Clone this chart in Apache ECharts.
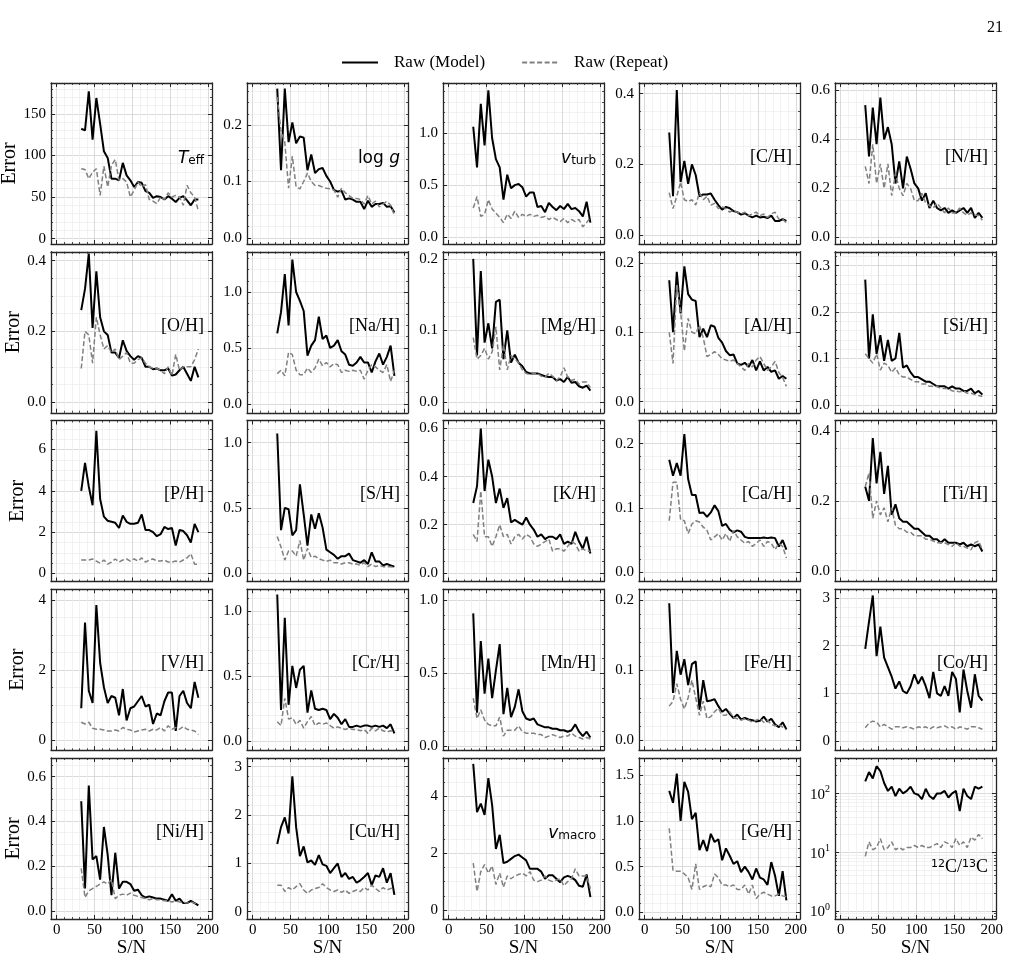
<!DOCTYPE html>
<html>
<head>
<meta charset="utf-8">
<script src="https://cdn.jsdelivr.net/npm/echarts@6/dist/echarts.min.js"></script>
<style>
html,body{margin:0;padding:0;background:#fff;}
#chart{width:1020px;height:977px;}
</style>
</head>
<body>
<div id="chart"></div>
<script>
// S/N bin centres shared by every panel
var snr = [32.5,37.5,42.5,47.5,52.5,57.5,62.5,67.5,72.5,77.5,82.5,87.5,92.5,97.5,102.5,107.5,
           112.5,117.5,122.5,127.5,132.5,137.5,142.5,147.5,152.5,157.5,162.5,167.5,172.5,177.5,182.5,187.5];

// row 1
var teffModel = [132,130,177,119,169,138,105,97,72,72,70,91,76,70,62,68,67,57,55,49,51,50,47,51,48,44,49,51,46,40,47,47];
var teffRepeat = [84,83,72,80,84,52,87,62,88,95,70,72,68,50,58,68,62,65,47,45,42,50,47,55,50,52,50,40,64,55,50,33];
var loggModel = [0.265,0.12,0.265,0.17,0.205,0.168,0.18,0.178,0.12,0.148,0.115,0.122,0.124,0.11,0.1,0.085,0.082,0.084,0.068,0.07,0.068,0.064,0.064,0.051,0.066,0.055,0.06,0.06,0.062,0.055,0.056,0.045];
var loggRepeat = [0.25,0.19,0.17,0.088,0.145,0.09,0.087,0.1,0.115,0.1,0.093,0.093,0.09,0.088,0.087,0.085,0.072,0.088,0.08,0.075,0.07,0.07,0.068,0.06,0.075,0.06,0.065,0.055,0.06,0.065,0.058,0.04];
var vturbModel = [1.06,0.67,1.28,0.88,1.41,0.95,0.75,0.67,0.36,0.6,0.47,0.5,0.51,0.48,0.39,0.43,0.43,0.29,0.3,0.24,0.33,0.29,0.26,0.3,0.27,0.32,0.27,0.28,0.25,0.2,0.34,0.14];
var vturbRepeat = [0.28,0.39,0.2,0.22,0.36,0.27,0.23,0.19,0.14,0.22,0.18,0.25,0.19,0.22,0.2,0.22,0.2,0.21,0.19,0.2,0.17,0.19,0.17,0.15,0.18,0.14,0.17,0.15,0.17,0.1,0.14,0.19];
var chModel = [0.29,0.11,0.41,0.15,0.21,0.145,0.2,0.17,0.11,0.115,0.115,0.118,0.1,0.085,0.072,0.08,0.076,0.068,0.065,0.058,0.062,0.055,0.05,0.055,0.05,0.052,0.048,0.055,0.04,0.04,0.045,0.04];
var chRepeat = [0.12,0.075,0.11,0.15,0.1,0.095,0.1,0.085,0.12,0.1,0.11,0.085,0.09,0.075,0.08,0.075,0.065,0.07,0.065,0.06,0.065,0.055,0.06,0.065,0.055,0.06,0.05,0.06,0.065,0.045,0.045,0.035];
var nhModel = [0.54,0.33,0.53,0.38,0.57,0.4,0.45,0.38,0.22,0.31,0.2,0.33,0.28,0.22,0.2,0.15,0.18,0.12,0.15,0.12,0.11,0.12,0.1,0.11,0.1,0.11,0.12,0.1,0.12,0.08,0.1,0.08];
var nhRepeat = [0.29,0.22,0.38,0.22,0.3,0.2,0.3,0.17,0.26,0.2,0.17,0.22,0.2,0.15,0.15,0.18,0.14,0.13,0.12,0.14,0.12,0.1,0.12,0.1,0.1,0.12,0.1,0.09,0.1,0.09,0.09,0.07];

// row 2
var ohModel = [0.26,0.32,0.42,0.21,0.37,0.24,0.2,0.19,0.14,0.14,0.125,0.175,0.145,0.13,0.12,0.13,0.125,0.1,0.1,0.093,0.095,0.09,0.09,0.095,0.075,0.078,0.09,0.1,0.08,0.06,0.1,0.07];
var ohRepeat = [0.095,0.2,0.19,0.11,0.24,0.19,0.15,0.16,0.14,0.15,0.12,0.13,0.14,0.11,0.11,0.12,0.125,0.11,0.1,0.095,0.095,0.09,0.08,0.1,0.075,0.135,0.09,0.1,0.1,0.1,0.12,0.15];
var naModel = [0.63,0.82,1.16,0.7,1.29,1.0,0.92,0.83,0.43,0.52,0.57,0.78,0.58,0.61,0.5,0.52,0.57,0.47,0.44,0.35,0.34,0.37,0.42,0.37,0.37,0.28,0.38,0.45,0.35,0.42,0.52,0.25];
var naRepeat = [0.27,0.3,0.25,0.46,0.44,0.3,0.26,0.26,0.32,0.28,0.32,0.4,0.34,0.37,0.33,0.36,0.35,0.28,0.3,0.29,0.3,0.29,0.3,0.22,0.3,0.35,0.33,0.3,0.28,0.35,0.2,0.3];
var mgModel = [0.2,0.065,0.183,0.083,0.11,0.075,0.14,0.143,0.06,0.1,0.055,0.066,0.055,0.05,0.042,0.04,0.04,0.04,0.038,0.036,0.035,0.035,0.03,0.032,0.028,0.035,0.027,0.028,0.022,0.02,0.023,0.016];
var mgRepeat = [0.09,0.06,0.065,0.075,0.06,0.07,0.105,0.045,0.08,0.045,0.065,0.06,0.055,0.045,0.04,0.038,0.04,0.04,0.036,0.035,0.04,0.036,0.03,0.035,0.048,0.035,0.03,0.032,0.025,0.028,0.028,0.02];
var alModel = [0.175,0.1,0.187,0.127,0.195,0.155,0.147,0.145,0.093,0.105,0.093,0.11,0.108,0.092,0.085,0.073,0.067,0.068,0.055,0.053,0.056,0.05,0.06,0.045,0.058,0.045,0.05,0.043,0.045,0.033,0.037,0.033];
var alRepeat = [0.1,0.055,0.17,0.13,0.073,0.12,0.1,0.098,0.11,0.092,0.065,0.068,0.072,0.068,0.062,0.06,0.058,0.06,0.055,0.05,0.045,0.055,0.05,0.06,0.065,0.055,0.045,0.05,0.058,0.042,0.035,0.022];
var siModel = [0.27,0.1,0.195,0.11,0.15,0.095,0.14,0.095,0.1,0.155,0.08,0.085,0.07,0.06,0.06,0.055,0.05,0.05,0.045,0.04,0.04,0.04,0.035,0.04,0.035,0.035,0.03,0.03,0.035,0.025,0.03,0.022];
var siRepeat = [0.11,0.1,0.09,0.11,0.075,0.09,0.085,0.07,0.08,0.065,0.06,0.06,0.055,0.05,0.05,0.045,0.045,0.04,0.04,0.04,0.035,0.035,0.035,0.03,0.03,0.028,0.03,0.025,0.025,0.022,0.02,0.018];

// row 3
var pModel = [4.0,5.35,4.2,3.3,6.9,3.6,2.75,2.55,2.5,2.45,2.2,2.8,2.5,2.4,2.4,2.45,2.85,2.1,2.1,2.0,1.8,1.9,2.25,2.15,2.2,1.35,2.1,2.05,1.85,1.5,2.4,2.0];
var pRepeat = [0.65,0.65,0.65,0.7,0.6,0.5,0.65,0.45,0.55,0.7,0.55,0.65,0.7,0.6,0.7,0.6,0.75,0.55,0.65,0.7,0.6,0.6,0.65,0.55,0.55,0.6,0.55,0.65,0.75,0.95,0.45,0.45];
var sModel = [1.07,0.33,0.5,0.49,0.29,0.33,0.68,0.45,0.21,0.45,0.34,0.46,0.35,0.18,0.16,0.14,0.11,0.13,0.13,0.15,0.1,0.09,0.08,0.1,0.07,0.16,0.09,0.09,0.06,0.07,0.06,0.05];
var sRepeat = [0.28,0.2,0.1,0.17,0.17,0.13,0.25,0.1,0.19,0.12,0.13,0.11,0.1,0.09,0.1,0.08,0.08,0.07,0.08,0.08,0.07,0.07,0.06,0.08,0.05,0.07,0.05,0.06,0.05,0.05,0.05,0.04];
var kModel = [0.29,0.36,0.6,0.34,0.47,0.4,0.29,0.35,0.27,0.31,0.21,0.22,0.21,0.2,0.23,0.2,0.18,0.15,0.16,0.14,0.15,0.15,0.14,0.16,0.12,0.13,0.12,0.17,0.13,0.1,0.15,0.08];
var kRepeat = [0.16,0.13,0.34,0.15,0.15,0.11,0.15,0.2,0.15,0.16,0.12,0.15,0.16,0.14,0.16,0.15,0.12,0.11,0.12,0.13,0.14,0.09,0.1,0.1,0.09,0.11,0.13,0.12,0.09,0.1,0.09,0.09];
var caModel = [0.175,0.15,0.17,0.15,0.215,0.145,0.12,0.12,0.092,0.093,0.086,0.093,0.104,0.095,0.072,0.075,0.066,0.062,0.065,0.063,0.055,0.053,0.053,0.053,0.053,0.054,0.053,0.054,0.053,0.04,0.05,0.035];
var caRepeat = [0.08,0.14,0.14,0.082,0.08,0.06,0.075,0.08,0.078,0.07,0.065,0.05,0.055,0.06,0.05,0.06,0.048,0.065,0.055,0.05,0.045,0.048,0.04,0.045,0.05,0.04,0.048,0.045,0.035,0.045,0.04,0.022];
var tiModel = [0.24,0.2,0.38,0.25,0.34,0.22,0.3,0.16,0.19,0.15,0.14,0.14,0.13,0.12,0.12,0.11,0.1,0.1,0.09,0.09,0.08,0.09,0.08,0.08,0.08,0.075,0.08,0.07,0.075,0.07,0.075,0.055];
var tiRepeat = [0.24,0.28,0.15,0.2,0.16,0.18,0.14,0.18,0.13,0.12,0.12,0.11,0.11,0.1,0.1,0.1,0.09,0.09,0.085,0.08,0.08,0.08,0.075,0.07,0.08,0.07,0.07,0.065,0.06,0.08,0.085,0.06];

// row 4
var vModel = [0.9,3.35,1.4,1.05,3.85,2.2,1.5,1.05,1.25,1.2,0.7,1.45,0.55,0.9,0.95,1.1,1.25,0.95,1.0,0.45,0.75,0.7,1.1,1.35,1.35,0.25,1.25,1.4,1.05,0.9,1.65,1.2];
var vRepeat = [0.5,0.45,0.5,0.33,0.3,0.3,0.28,0.25,0.25,0.28,0.25,0.35,0.3,0.28,0.22,0.25,0.28,0.3,0.25,0.3,0.28,0.35,0.25,0.4,0.3,0.35,0.3,0.38,0.3,0.28,0.25,0.15];
var crModel = [1.13,0.24,0.95,0.28,0.58,0.41,0.55,0.58,0.22,0.39,0.25,0.24,0.25,0.24,0.17,0.21,0.18,0.13,0.17,0.11,0.11,0.12,0.11,0.12,0.12,0.11,0.12,0.11,0.12,0.1,0.13,0.06];
var crRepeat = [0.15,0.12,0.33,0.17,0.18,0.13,0.16,0.1,0.15,0.19,0.12,0.14,0.13,0.14,0.12,0.1,0.11,0.1,0.09,0.1,0.09,0.09,0.08,0.09,0.06,0.1,0.08,0.1,0.08,0.07,0.08,0.07];
var mnModel = [0.91,0.23,0.72,0.36,0.6,0.33,0.52,0.7,0.22,0.4,0.2,0.27,0.39,0.24,0.19,0.18,0.19,0.15,0.14,0.13,0.13,0.12,0.12,0.11,0.11,0.1,0.11,0.15,0.1,0.07,0.1,0.06];
var mnRepeat = [0.33,0.19,0.25,0.18,0.15,0.14,0.14,0.2,0.07,0.11,0.11,0.11,0.14,0.1,0.09,0.09,0.09,0.08,0.08,0.06,0.07,0.08,0.07,0.06,0.07,0.07,0.09,0.07,0.06,0.05,0.06,0.05];
var feModel = [0.195,0.067,0.127,0.093,0.115,0.078,0.108,0.112,0.043,0.085,0.055,0.056,0.058,0.048,0.04,0.044,0.037,0.031,0.036,0.029,0.031,0.029,0.028,0.026,0.027,0.033,0.026,0.03,0.022,0.018,0.025,0.015];
var feRepeat = [0.048,0.055,0.08,0.058,0.044,0.06,0.085,0.06,0.035,0.055,0.03,0.033,0.04,0.045,0.035,0.035,0.04,0.032,0.03,0.028,0.03,0.028,0.025,0.028,0.03,0.025,0.028,0.022,0.02,0.022,0.018,0.014];
var coModel = [1.93,2.5,3.05,1.78,2.4,1.75,1.55,1.35,1.1,1.25,1.05,1.0,1.15,1.4,1.2,1.35,1.15,0.9,1.45,1.0,0.95,1.15,0.95,1.45,1.3,0.6,1.5,1.05,0.7,1.4,0.95,0.85];
var coRepeat = [0.28,0.38,0.42,0.4,0.3,0.35,0.3,0.25,0.3,0.3,0.28,0.3,0.28,0.25,0.3,0.28,0.3,0.25,0.3,0.28,0.3,0.32,0.28,0.3,0.25,0.3,0.28,0.25,0.3,0.3,0.28,0.25];

// row 5
var niModel = [0.49,0.1,0.56,0.23,0.245,0.14,0.375,0.25,0.07,0.26,0.1,0.13,0.13,0.12,0.09,0.095,0.07,0.06,0.065,0.06,0.055,0.055,0.05,0.045,0.075,0.045,0.055,0.035,0.035,0.045,0.035,0.025];
var niRepeat = [0.19,0.06,0.09,0.1,0.11,0.12,0.13,0.12,0.14,0.055,0.07,0.075,0.07,0.08,0.07,0.065,0.06,0.055,0.05,0.055,0.05,0.05,0.045,0.045,0.04,0.045,0.04,0.04,0.035,0.04,0.035,0.03];
var cuModel = [1.4,1.75,1.95,1.62,2.8,1.75,1.15,1.35,1.02,1.06,0.97,1.17,0.98,0.95,0.8,0.9,1.0,0.72,0.8,0.68,0.72,0.6,0.65,0.72,0.8,0.55,0.75,0.72,0.9,0.6,0.8,0.35];
var cuRepeat = [0.55,0.55,0.42,0.5,0.45,0.52,0.58,0.45,0.38,0.45,0.48,0.5,0.58,0.5,0.45,0.42,0.45,0.4,0.45,0.38,0.42,0.45,0.42,0.5,0.45,0.55,0.48,0.42,0.5,0.45,0.48,0.5];
var vmacroModel = [5.15,3.45,3.75,3.35,4.65,3.7,2.15,2.65,1.65,1.7,1.8,1.9,1.95,1.85,1.75,1.45,1.45,1.45,1.35,1.1,1.22,1.22,1.1,0.98,1.15,1.2,1.15,1.05,0.85,0.82,1.25,0.45];
var vmacroRepeat = [1.65,0.65,1.35,1.6,1.3,1.55,0.9,1.3,0.8,1.2,1.1,1.2,1.25,1.3,1.2,1.35,1.05,1.0,1.05,1.2,1.05,1.0,1.05,1.1,0.85,1.0,1.1,1.45,1.2,1.2,1.2,0.75];
var geModel = [1.33,1.2,1.52,1.0,1.43,1.32,1.02,1.09,0.68,0.79,0.67,0.86,0.77,0.8,0.57,0.7,0.62,0.53,0.56,0.44,0.5,0.44,0.36,0.48,0.38,0.36,0.3,0.55,0.4,0.18,0.45,0.13];
var geRepeat = [0.92,0.46,0.45,0.45,0.42,0.38,0.25,0.53,0.25,0.28,0.3,0.28,0.42,0.38,0.3,0.3,0.28,0.3,0.25,0.25,0.3,0.2,0.3,0.15,0.2,0.22,0.2,0.18,0.18,0.2,0.18,0.17];
var cratioModel = [160,230,180,290,240,150,110,130,90,120,100,110,130,100,95,80,120,90,80,100,100,110,85,100,110,50,120,90,80,130,120,130];
var cratioRepeat = [8.5,15,11,12,17,11,12,15,11,12,11,12,12,13,12,13,12,12,13,14,12,15,14,12,17,13,15,12,18,16,20,17];

// panel labels (rich text)
var labels = [
  '{mi|T}{sub|eff}', '{m|log }{mi|g}', '{mi|v}{sub|turb}', '[C/H]', '[N/H]',
  '[O/H]', '[Na/H]', '[Mg/H]', '[Al/H]', '[Si/H]',
  '[P/H]', '[S/H]', '[K/H]', '[Ca/H]', '[Ti/H]',
  '[V/H]', '[Cr/H]', '[Mn/H]', '[Fe/H]', '[Co/H]',
  '[Ni/H]', '[Cu/H]', '{mi|v}{sub|macro}', '[Ge/H]', '{sup|12}C/{sup|13}C'
];

// axis ranges: [min, max, major step, minor splits]
var panels = [
  {model: teffModel, repeat: teffRepeat, y: [-6.5, 187, 50, 5]},
  {model: loggModel, repeat: loggRepeat, y: [-0.011, 0.275, 0.1, 5]},
  {model: vturbModel, repeat: vturbRepeat, y: [-0.065, 1.48, 0.5, 5]},
  {model: chModel, repeat: chRepeat, y: [-0.025, 0.43, 0.2, 4]},
  {model: nhModel, repeat: nhRepeat, y: [-0.027, 0.63, 0.2, 4]},
  {model: ohModel, repeat: ohRepeat, y: [-0.03, 0.425, 0.2, 4]},
  {model: naModel, repeat: naRepeat, y: [-0.08, 1.36, 0.5, 5]},
  {model: mgModel, repeat: mgRepeat, y: [-0.015, 0.21, 0.1, 5]},
  {model: alModel, repeat: alRepeat, y: [-0.016, 0.216, 0.1, 5]},
  {model: siModel, repeat: siRepeat, y: [-0.017, 0.33, 0.1, 5]},
  {model: pModel, repeat: pRepeat, y: [-0.39, 7.4, 2, 4]},
  {model: sModel, repeat: sRepeat, y: [-0.064, 1.17, 0.5, 5]},
  {model: kModel, repeat: kRepeat, y: [-0.036, 0.633, 0.2, 4]},
  {model: caModel, repeat: caRepeat, y: [-0.0145, 0.236, 0.1, 5]},
  {model: tiModel, repeat: tiRepeat, y: [-0.031, 0.43, 0.2, 4]},
  {model: vModel, repeat: vRepeat, y: [-0.3, 4.3, 2, 4]},
  {model: crModel, repeat: crRepeat, y: [-0.07, 1.17, 0.5, 5]},
  {model: mnModel, repeat: mnRepeat, y: [-0.027, 1.075, 0.5, 5]},
  {model: feModel, repeat: feRepeat, y: [-0.015, 0.215, 0.1, 5]},
  {model: coModel, repeat: coRepeat, y: [-0.19, 3.18, 1, 5]},
  {model: niModel, repeat: niRepeat, y: [-0.036, 0.683, 0.2, 4]},
  {model: cuModel, repeat: cuRepeat, y: [-0.15, 3.18, 1, 5]},
  {model: vmacroModel, repeat: vmacroRepeat, y: [-0.32, 5.36, 2, 4]},
  {model: geModel, repeat: geRepeat, y: [-0.073, 1.69, 0.5, 5]},
  {model: cratioModel, repeat: cratioRepeat, y: [0.73, 400], log: true}
];

var serif = 'Liberation Serif';
var sans = 'DejaVu Sans';
var frame = '#262626';
var majorGrid = '#d2d2d2';
var minorGrid = '#ececec';

var labelRich = {
  mi: {fontFamily: sans, fontStyle: 'italic', fontSize: 17, lineHeight: 20, verticalAlign: 'bottom'},
  m: {fontFamily: sans, fontSize: 17, lineHeight: 20, verticalAlign: 'bottom'},
  sub: {fontFamily: sans, fontSize: 12, lineHeight: 9, verticalAlign: 'bottom'},
  sup: {fontFamily: sans, fontSize: 11, lineHeight: 10, verticalAlign: 'top'}
};

function pairs(ys){
  return snr.map(function(x, i){ return [x, ys[i]]; });
}

var grids = [], xAxes = [], yAxes = [], series = [], graphics = [];

panels.forEach(function(p, k){
  var row = Math.floor(k / 5), col = k % 5;
  var left = 51 + col * 196, top = 83 + row * 168.75, size = 161;
  grids.push({left: left, top: top, width: size, height: size, outerBoundsMode: 'none'});

  // x axes: bottom (labels + grid), top (frame + ticks)
  var xBase = {
    type: 'value', gridIndex: k, min: -7.5, max: 205.5,
    minInterval: 50, maxInterval: 50,
    axisLine: {show: true, onZero: false, lineStyle: {color: frame, width: 1.3}},
    axisTick: {show: true, inside: true, length: 4, lineStyle: {color: frame, width: 1}},
    minorTick: {show: true, splitNumber: 5, length: 2, lineStyle: {color: frame, width: 0.8}}
  };
  xAxes.push(Object.assign({}, xBase, {
    position: 'bottom',
    splitLine: {show: true, lineStyle: {color: majorGrid, width: 0.8}},
    minorSplitLine: {show: true, lineStyle: {color: minorGrid, width: 0.7}},
    axisLabel: {show: row === 4, showMinLabel: false, showMaxLabel: false, margin: 4,
      fontFamily: serif, fontSize: 15, color: '#000'},
    name: row === 4 ? 'S/N' : '', nameLocation: 'middle', nameGap: 17,
    nameTextStyle: {fontFamily: serif, fontSize: 19, color: '#000'}
  }));
  xAxes.push(Object.assign({}, xBase, {
    position: 'top', splitLine: {show: false}, minorSplitLine: {show: false},
    axisLabel: {show: false}
  }));

  // y axes: left (labels + grid), right (frame + ticks)
  var yBase, fmt, rich = null;
  if (p.log) {
    yBase = {type: 'log', logBase: 10, min: p.y[0], max: p.y[1]};
    fmt = function(v){ return '{b|10}{s|' + Math.round(Math.log10(v)) + '}'; };
    rich = {
      b: {fontFamily: serif, fontSize: 15, lineHeight: 18, verticalAlign: 'bottom', color: '#000'},
      s: {fontFamily: serif, fontSize: 10, lineHeight: 12, verticalAlign: 'top', color: '#000'}
    };
  } else {
    var dec = p.y[2] < 1 ? 1 : 0;
    yBase = {type: 'value', min: p.y[0], max: p.y[1], minInterval: p.y[2], maxInterval: p.y[2]};
    fmt = function(v){ return v.toFixed(dec); };
  }
  var ySplit = p.log ? 9 : p.y[3];
  var yCommon = Object.assign({gridIndex: k,
    axisLine: {show: true, onZero: false, lineStyle: {color: frame, width: 1.3}},
    axisTick: {show: true, inside: true, length: 4, lineStyle: {color: frame, width: 1}},
    minorTick: {show: true, splitNumber: ySplit, length: 2, lineStyle: {color: frame, width: 0.8}}
  }, yBase);
  var yLabel = {show: true, showMinLabel: false, showMaxLabel: false, margin: 5,
    fontFamily: serif, fontSize: 15, color: '#000', formatter: fmt};
  if (rich) yLabel.rich = rich;
  yAxes.push(Object.assign({}, yCommon, {
    position: 'left',
    splitLine: {show: true, lineStyle: {color: majorGrid, width: 0.8}},
    minorSplitLine: {show: true, lineStyle: {color: minorGrid, width: 0.7}},
    axisLabel: yLabel,
    name: col === 0 ? 'Error' : '', nameLocation: 'middle', nameRotate: 90, nameGap: 23,
    nameTextStyle: {fontFamily: serif, fontSize: 20, color: '#000'}
  }));
  yAxes.push(Object.assign({}, yCommon, {
    position: 'right', splitLine: {show: false}, minorSplitLine: {show: false},
    axisLabel: {show: false}
  }));

  series.push({
    name: 'Raw (Model)', type: 'line', xAxisIndex: 2 * k, yAxisIndex: 2 * k,
    data: pairs(p.model), symbol: 'none', z: 3,
    lineStyle: {color: '#000', width: 2}, itemStyle: {color: '#000'}
  });
  series.push({
    name: 'Raw (Repeat)', type: 'line', xAxisIndex: 2 * k, yAxisIndex: 2 * k,
    data: pairs(p.repeat), symbol: 'none', z: 4,
    lineStyle: {color: '#808080', width: 1.5, type: [5, 2.5]}, itemStyle: {color: '#808080'}
  });

  graphics.push({
    type: 'text', z: 50,
    x: left + size - 8, y: top + size * (p.log ? 0.68 : 0.46),
    style: {text: labels[k], align: 'right', verticalAlign: 'middle',
      fontFamily: serif, fontSize: 18, fill: '#000', rich: labelRich}
  });
});

graphics.push({
  type: 'text', x: 1003, y: 28,
  style: {text: '21', align: 'right', verticalAlign: 'middle', fontFamily: serif, fontSize: 16, fill: '#000'}
});

var chart = echarts.init(document.getElementById('chart'), null, {renderer: 'canvas'});
chart.setOption({
  animation: false,
  backgroundColor: '#fff',
  legend: {
    top: 49, left: 336, itemWidth: 36, itemHeight: 12, itemGap: 36,
    data: ['Raw (Model)', 'Raw (Repeat)'],
    itemStyle: {opacity: 0},
    textStyle: {fontFamily: serif, fontSize: 17, color: '#000', padding: [0, 0, 0, 11]}
  },
  grid: grids,
  xAxis: xAxes,
  yAxis: yAxes,
  series: series,
  graphic: graphics
});
</script>
</body>
</html>
